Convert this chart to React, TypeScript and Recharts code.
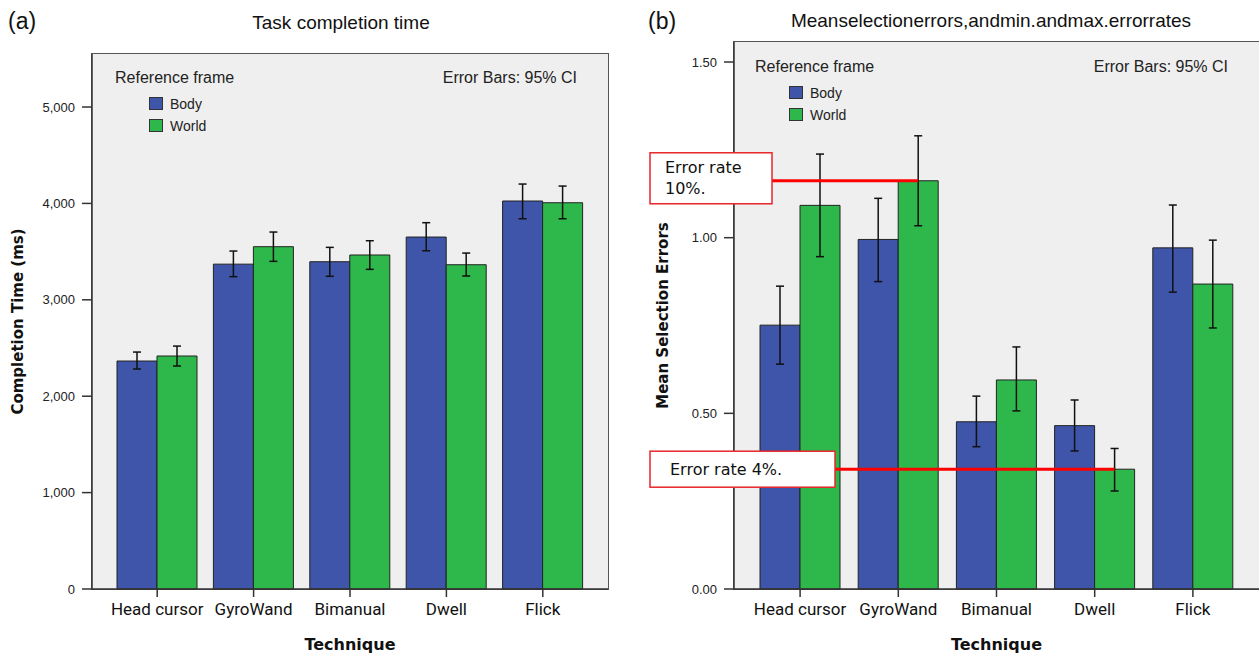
import { BarChart, Bar, XAxis, YAxis, ErrorBar, Legend, LabelList } from "recharts"

const techniques = ["Head cursor", "GyroWand", "Bimanual", "Dwell", "Flick"]

// task completion time (ms), mean and 95% CI
const timeBody = [2365, 3370, 3395, 3651, 4025]
const timeBodyLo = [2282, 3240, 3244, 3509, 3841]
const timeBodyHi = [2458, 3506, 3544, 3800, 4201]
const timeWorld = [2417, 3551, 3465, 3364, 4007]
const timeWorldLo = [2313, 3399, 3316, 3247, 3841]
const timeWorldHi = [2520, 3703, 3613, 3485, 4180]
const timeTicks = [0, 1000, 2000, 3000, 4000, 5000]

// mean selection errors, mean and 95% CI
const errBody = [0.751, 0.995, 0.476, 0.465, 0.971]
const errBodyLo = [0.64, 0.875, 0.405, 0.393, 0.845]
const errBodyHi = [0.862, 1.112, 0.549, 0.538, 1.093]
const errWorld = [1.092, 1.162, 0.595, 0.341, 0.868]
const errWorldLo = [0.946, 1.034, 0.507, 0.279, 0.743]
const errWorldHi = [1.238, 1.29, 0.689, 0.4, 0.993]
const errTicks = [0, 0.5, 1, 1.5]

const callouts = [
  { index: 1, lines: ["Error rate", "10%."] },
  { index: 3, lines: ["Error rate 4%."] },
]

const BLUE = "#3e55a9"
const GREEN = "#2eb84b"
const PANEL = "#efefef"
const AXIS = "#333"

const build = (mb: number[], lb: number[], hb: number[], mw: number[], lw: number[], hw: number[]) =>
  techniques.map((t, i) => ({
    technique: t,
    body: mb[i],
    bodyErr: [mb[i] - lb[i], hb[i] - mb[i]],
    world: mw[i],
    worldErr: [mw[i] - lw[i], hw[i] - mw[i]],
  }))

const timeData = build(timeBody, timeBodyLo, timeBodyHi, timeWorld, timeWorldLo, timeWorldHi)
const errData = build(errBody, errBodyLo, errBodyHi, errWorld, errWorldLo, errWorldHi)

const sans = "'Liberation Sans', Arial, sans-serif"
const boldSans = "'DejaVu Sans', Verdana, sans-serif"

function LegendBox(props: any) {
  const payload = props.payload || []
  return (
    <div style={{ fontFamily: sans, color: "#222" }}>
      <div style={{ fontSize: 16, lineHeight: "20px", whiteSpace: "nowrap" }}>Reference frame</div>
      {payload.map((p: any, i: number) => (
        <div key={i} style={{ display: "flex", alignItems: "center", marginLeft: 34, marginTop: 9, height: 13 }}>
          <span style={{ width: 12, height: 11, background: p.color, border: "1px solid #333", display: "inline-block" }} />
          <span style={{ marginLeft: 7, fontSize: 14, whiteSpace: "nowrap" }}>{p.value}</span>
        </div>
      ))}
    </div>
  )
}

const xLabel = (props: any) => {
  const vb = props.viewBox
  return (
    <text x={vb.x + vb.width / 2} y={vb.y + 61} textAnchor="middle" fontFamily={boldSans} fontWeight="bold" fontSize={16} fill="#111">
      Technique
    </text>
  )
}

const yLabel = (text: string, cx: number) => (props: any) => {
  const vb = props.viewBox
  const cy = vb.y + vb.height / 2
  return (
    <text transform={`translate(${cx}, ${cy}) rotate(-90)`} textAnchor="middle" dominantBaseline="central" fontFamily={boldSans} fontWeight="bold" fontSize={15} fill="#111">
      {text}
    </text>
  )
}

// red call-out boxes on the World bars of the error chart
const renderCallout = (p: any) => {
  const vb = p.viewBox || p
  const x = vb.x ?? p.x
  const y = vb.y ?? p.y
  const w = vb.width ?? p.width
  const c = callouts.find((k) => k.index === p.index)
  if (!c) return null
  const two = c.lines.length > 1
  const boxW = two ? 122 : 185
  const boxH = two ? 51 : 36
  const boxY = y - (two ? 28 : 18)
  const tx = two ? 35 : 40
  return (
    <g>
      <line x1={20 + boxW} y1={y} x2={x + w / 2} y2={y} stroke="#f00" strokeWidth={3} />
      <rect x={20} y={boxY} width={boxW} height={boxH} fill="#fff" stroke="#e8262a" strokeWidth={1.5} />
      <text x={tx} y={boxY + (two ? 20 : 24)} fontFamily="'DejaVu Sans', sans-serif" fontSize={16} fill="#111">
        {c.lines.map((l, i) => (
          <tspan key={i} x={tx} dy={i === 0 ? 0 : 21}>
            {l}
          </tspan>
        ))}
      </text>
    </g>
  )
}

function Panel(props: {
  left: number
  width: number
  yAxisWidth: number
  rightMargin: number
  data: any[]
  domain: number[]
  ticks: number[]
  fmt: (v: number) => string
  yTitle: string
  yTitleX: number
  legendLeft: number
  legendTop: number
  top: number
  callout?: boolean
}) {
  const plotL = props.yAxisWidth
  const plotR = props.width - props.rightMargin
  return (
    <div style={{ position: "absolute", left: props.left, top: 0, width: props.width, height: 656 }}>
      <div
        style={{
          position: "absolute",
          left: plotL - 1,
          top: props.top - 1,
          width: plotR - plotL + 2,
          height: 589 - props.top + 2,
          background: PANEL,
          border: "1.5px solid #555",
          boxSizing: "border-box",
        }}
      />
      <div style={{ position: "absolute", left: 0, top: 0 }}>
        <BarChart
          width={props.width}
          height={656}
          data={props.data}
          margin={{ top: props.top, right: props.rightMargin, bottom: 0, left: 0 }}
          barGap={0}
          barSize={40}
        >
          <XAxis
            dataKey="technique"
            height={67}
            interval={0}
            padding={{ left: 17, right: 17 }}
            tickSize={8}
            tickMargin={6}
            tick={{ fontFamily: "Roboto, sans-serif", fontSize: 17, fill: "#111" }}
            axisLine={{ stroke: AXIS, strokeWidth: 1.5 }}
            tickLine={{ stroke: AXIS, strokeWidth: 1.5 }}
            label={xLabel}
          />
          <YAxis
            width={props.yAxisWidth}
            domain={props.domain}
            ticks={props.ticks}
            tickFormatter={props.fmt}
            tickSize={10}
            tickMargin={7}
            tick={{ fontFamily: sans, fontSize: 13, fill: "#222" }}
            axisLine={{ stroke: AXIS, strokeWidth: 1.5 }}
            tickLine={{ stroke: AXIS, strokeWidth: 1.5 }}
            label={yLabel(props.yTitle, props.yTitleX)}
          />
          <Legend
            layout="vertical"
            verticalAlign="middle"
            align="center"
            content={LegendBox}
            wrapperStyle={{ position: "absolute", left: props.legendLeft, top: props.legendTop, width: "auto", height: "auto" }}
          />
          <Bar dataKey="body" name="Body" fill={BLUE} stroke="#222" strokeWidth={1} isAnimationActive={false}>
            <ErrorBar dataKey="bodyErr" width={4} stroke="#111" strokeWidth={1.5} direction="y" isAnimationActive={false} />
          </Bar>
          <Bar dataKey="world" name="World" fill={GREEN} stroke="#222" strokeWidth={1} isAnimationActive={false}>
            <ErrorBar dataKey="worldErr" width={4} stroke="#111" strokeWidth={1.5} direction="y" isAnimationActive={false} />
            {props.callout && <LabelList dataKey="world" content={renderCallout} />}
          </Bar>
        </BarChart>
      </div>
    </div>
  )
}

export default function App() {
  return (
    <div style={{ position: "fixed", left: 0, top: 0, width: 1259, height: 656, overflow: "hidden", background: "#fff" }}>
      <Panel
        left={0}
        width={630}
        yAxisWidth={92}
        rightMargin={22}
        data={timeData}
        domain={[0, 5550]}
        ticks={timeTicks}
        fmt={(v) => v.toLocaleString("en-US")}
        yTitle="Completion Time (ms)"
        yTitleX={18}
        legendLeft={115}
        legendTop={68}
        top={54}
      />
      <Panel
        left={630}
        width={629}
        yAxisWidth={104}
        rightMargin={0}
        data={errData}
        domain={[0, 1.557]}
        ticks={errTicks}
        fmt={(v) => v.toFixed(2)}
        yTitle="Mean Selection Errors"
        yTitleX={33}
        legendLeft={125}
        legendTop={57}
        top={42}
        callout
      />
      <svg width={1259} height={656} style={{ position: "absolute", left: 0, top: 0, pointerEvents: "none" }}>
        <g fontFamily={sans} fill="#111">
          <text x={8} y={29} fontSize={23}>(a)</text>
          <text x={341} y={29} fontSize={19} textAnchor="middle">Task completion time</text>
          <text x={577} y={83} fontSize={16} textAnchor="end" fill="#222">Error Bars: 95% CI</text>
          <text x={648} y={29} fontSize={23}>(b)</text>
          <text x={991} y={27} fontSize={19} textAnchor="middle">Meanselectionerrors,andmin.andmax.errorrates</text>
          <text x={1228} y={72} fontSize={16} textAnchor="end" fill="#222">Error Bars: 95% CI</text>
        </g>
      </svg>
    </div>
  )
}
